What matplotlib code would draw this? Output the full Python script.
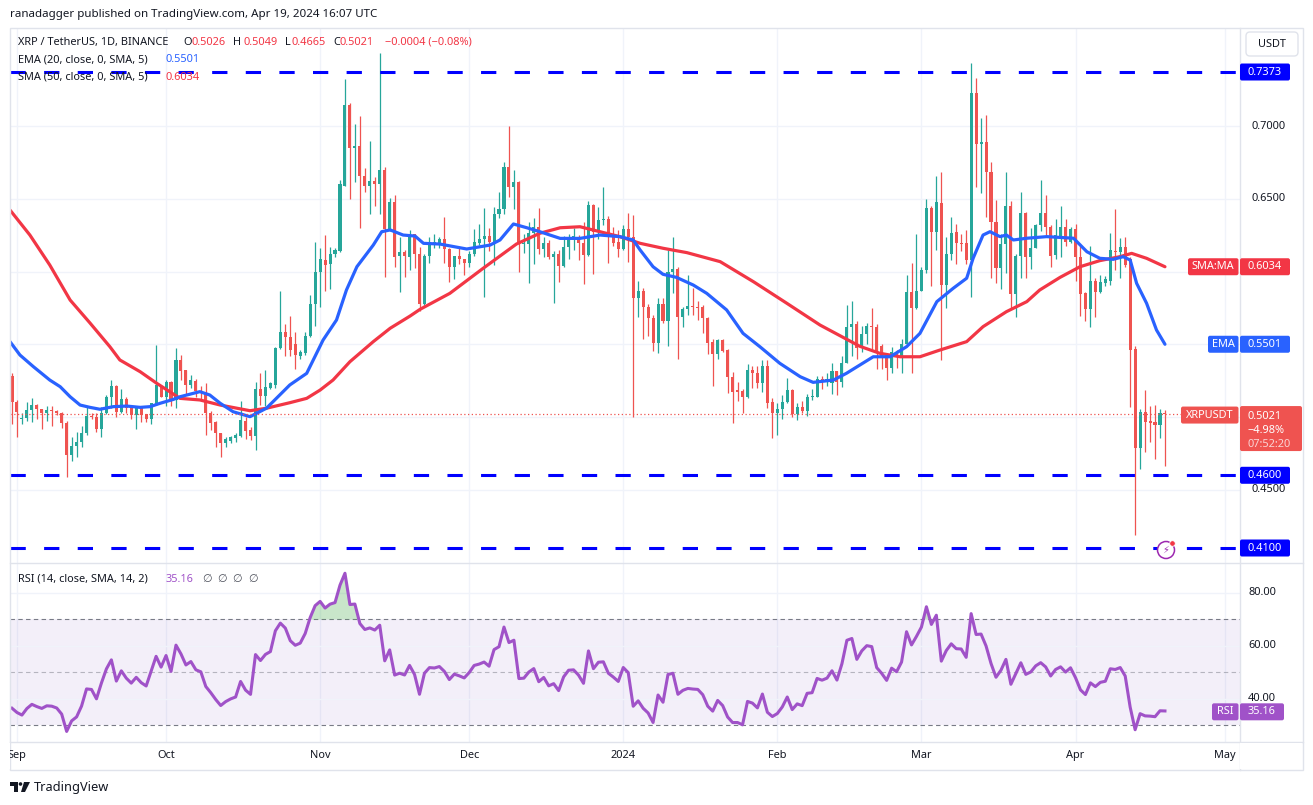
import numpy as np
import pandas as pd
import matplotlib
matplotlib.use('Agg')
import matplotlib.pyplot as plt
from matplotlib.patches import Rectangle, FancyBboxPatch, Circle, Polygon
from matplotlib.lines import Line2D

plt.rcParams['font.family'] = ['Noto Sans', 'DejaVu Sans']

# ---- data (daily XRP/USDT, day 0 = 2023-08-31) ----
start = pd.Timestamp('2023-08-31')

opens = [
    .5283, .5106, .4985, .4995, .5049, .5083, .5054, .5031, .5049, .5045,
    .5030, .4962, .4740, .4803, .4831, .4893, .5008, .5003, .4918, .5026,
    .5136, .5214, .5037, .5125, .5070, .5015, .5060, .5020, .4987, .5090,
    .5216, .5140, .5244, .5118, .5393, .5324, .5220, .5250, .5182, .5164,
    .5026, .4969, .4888, .4820, .4838, .4855, .4870, .4975, .4911, .4870,
    .5193, .5145, .5203, .5219, .5473, .5583, .5553, .5500, .5420, .5443,
    .5558, .5778, .5996, .6077, .6050, .6119, .6142, .6591, .7146, .6848,
    .6864, .6658, .6591, .6625, .6603, .6699, .6291, .6477, .6108, .6133,
    .6103, .6257, .6119, .5778, .6108, .6195, .6190, .6222, .6154, .6035,
    .6108, .6085, .6058, .6121, .6199, .6222, .6245, .6206, .6395, .6431,
    .6718, .6580, .6619, .6190, .6190, .6268, .6309, .6154, .6200, .6099,
    .6121, .6039, .6172, .6235, .6241, .6195, .6115, .6459, .6275, .6353,
    .6363, .6241, .6206, .6154, .6291, .6241, .5817, .5869, .5755, .5679,
    .5512, .5778, .5663, .6000, .6016, .5691, .5741, .5764, .5755, .5755,
    .5679, .5517, .5434, .5531, .5461, .5274, .5186, .5180, .5136, .5324,
    .5306, .5237, .5351, .5106, .5030, .5054, .5106, .5186, .5021, .5067,
    .5044, .5136, .5140, .5260, .5240, .5237, .5317, .5243, .5374, .5618,
    .5640, .5478, .5570, .5629, .5622, .5491, .5416, .5340, .5446, .5416,
    .5501, .5858, .5748, .5867, .6012, .6436, .6271, .6470, .5909, .6119,
    .6271, .6195, .6195, .6080, .7226, .6876, .6890, .6683, .6340, .6027,
    .6188, .6452, .5844, .6110, .6401, .6103, .6165, .6321, .6401, .6309,
    .6117, .6245, .6309, .6206, .6291, .6103, .5851, .5741, .5938, .5862,
    .5924, .5938, .6145, .6138, .6168, .6085, .5466, .4786, .5037, .4975,
    .4969, .4946, .5026]

highs = [
    .5300, .5120, .5028, .5106, .5134, .5090, .5058, .5076, .5076, .5050,
    .5035, .4970, .4865, .4900, .4939, .5076, .5031, .5026, .5072, .5154,
    .5255, .5220, .5193, .5140, .5080, .5070, .5070, .5020, .5100, .5496,
    .5220, .5255, .5250, .5473, .5427, .5324, .5290, .5260, .5214, .5233,
    .5040, .4970, .4890, .4860, .4870, .4890, .5113, .5000, .4934, .5244,
    .5305, .5323, .5240, .5485, .5870, .5637, .5695, .5587, .5460, .5587,
    .5840, .6206, .6160, .6252, .6170, .6160, .6630, .7323, .7158, .7013,
    .7071, .6710, .6900, .6650, .7502, .6722, .6505, .6527, .6241, .6150,
    .6287, .6260, .6172, .6122, .6240, .6260, .6240, .6374, .6160, .6108,
    .6170, .6090, .6140, .6291, .6328, .6436, .6297, .6443, .6547, .6757,
    .7002, .6699, .6625, .6260, .6343, .6370, .6436, .6240, .6220, .6140,
    .6150, .6245, .6260, .6300, .6250, .6343, .6487, .6465, .6442, .6580,
    .6380, .6310, .6290, .6320, .6401, .6390, .5938, .5890, .5780, .5700,
    .5817, .5820, .6149, .6241, .6030, .5760, .5978, .5890, .5800, .5770,
    .5690, .5540, .5540, .5540, .5470, .5312, .5240, .5190, .5362, .5350,
    .5350, .5392, .5392, .5130, .5100, .5150, .5267, .5190, .5100, .5110,
    .5160, .5190, .5285, .5285, .5305, .5370, .5320, .5420, .5771, .5795,
    .5660, .5627, .5650, .5752, .5640, .5500, .5430, .5480, .5460, .5540,
    .5977, .6058, .6257, .6035, .6500, .6450, .6660, .6683, .6241, .6374,
    .6330, .6260, .6290, .7432, .7334, .7058, .7077, .6752, .6493, .6260,
    .6683, .6486, .6120, .6547, .6410, .6300, .6330, .6630, .6527, .6320,
    .6360, .6452, .6360, .6310, .6330, .6180, .5860, .6177, .5960, .5975,
    .5970, .6268, .6429, .6231, .6241, .6100, .5489, .5054, .5186, .5077,
    .5083, .5054, .5049]

lows = [
    .4953, .4865, .4953, .4975, .4968, .4990, .4916, .4970, .4939, .5015,
    .4923, .4590, .4700, .4728, .4797, .4877, .4985, .4896, .4865, .5020,
    .5060, .5003, .5030, .5026, .4985, .4916, .4968, .4968, .4953, .5080,
    .5135, .5076, .5076, .5060, .5255, .5152, .5200, .5135, .5125, .4877,
    .4913, .4792, .4728, .4793, .4820, .4830, .4863, .4850, .4844, .4774,
    .5083, .5078, .5190, .5200, .5470, .5422, .5420, .5329, .5400, .5430,
    .5550, .5627, .5756, .5869, .5880, .6100, .6133, .6589, .6500, .6614,
    .6298, .6545, .6397, .6450, .6397, .5965, .6280, .6034, .5862, .5965,
    .6012, .6022, .5732, .5773, .6062, .6160, .6160, .6062, .5927, .5950,
    .6050, .5977, .6030, .6110, .6185, .5823, .6140, .6045, .6370, .6395,
    .6512, .6434, .6000, .6130, .5920, .6050, .6120, .6100, .6085, .5783,
    .5932, .6030, .6090, .6150, .6080, .5917, .6110, .5985, .6225, .6320,
    .6062, .6180, .6100, .6150, .6069, .5003, .5691, .5535, .5557, .5457,
    .5443, .5650, .5489, .5851, .5400, .5620, .5700, .5700, .5670, .5577,
    .5431, .5214, .5400, .5450, .5168, .4962, .5110, .5026, .5130, .5200,
    .5200, .5170, .5066, .4854, .4880, .4990, .5100, .5003, .4980, .5030,
    .5010, .5120, .5135, .5190, .5215, .5160, .5150, .5210, .5370, .5420,
    .5400, .5450, .5500, .5455, .5331, .5331, .5255, .5300, .5340, .5300,
    .5490, .5301, .5740, .5867, .5990, .5903, .6149, .5393, .5748, .6080,
    .6050, .6140, .6050, .5828, .6584, .6538, .6379, .5959, .5920, .5880,
    .5989, .5748, .5691, .5960, .5960, .6020, .6160, .6280, .6250, .6035,
    .6090, .6103, .6180, .6195, .5939, .5694, .5663, .5622, .5686, .5850,
    .5900, .5910, .6012, .5960, .6030, .5072, .4189, .4641, .4762, .4829,
    .4710, .4854, .4665]

closes = [
    .5106, .5037, .4995, .5049, .5083, .5054, .5031, .5049, .5045, .5026,
    .4962, .4740, .4803, .4827, .4893, .5008, .5003, .4918, .5026, .5136,
    .5214, .5037, .5125, .5060, .5015, .5060, .5015, .4987, .5095, .5221,
    .5140, .5244, .5118, .5393, .5319, .5220, .5255, .5182, .5164, .5026,
    .4962, .4888, .4820, .4847, .4865, .4877, .4980, .4907, .4870, .5193,
    .5145, .5205, .5233, .5473, .5583, .5549, .5460, .5427, .5450, .5558,
    .5778, .5996, .6087, .6043, .6119, .6150, .6603, .7146, .6848, .6864,
    .6658, .6591, .6625, .6603, .6699, .6291, .6481, .6103, .6133, .6105,
    .6252, .6119, .5778, .6108, .6206, .6200, .6223, .6154, .6035, .6108,
    .6085, .6058, .6121, .6206, .6222, .6245, .6206, .6395, .6431, .6718,
    .6580, .6614, .6190, .6195, .6268, .6309, .6154, .6200, .6099, .6121,
    .6039, .6172, .6241, .6245, .6195, .6115, .6459, .6275, .6353, .6358,
    .6241, .6200, .6154, .6291, .6241, .5817, .5869, .5755, .5679, .5512,
    .5778, .5663, .6000, .6016, .5691, .5741, .5764, .5755, .5750, .5679,
    .5512, .5434, .5531, .5457, .5274, .5175, .5175, .5136, .5324, .5301,
    .5237, .5351, .5099, .5030, .5054, .5106, .5186, .5021, .5067, .5044,
    .5140, .5145, .5260, .5244, .5260, .5317, .5243, .5374, .5618, .5640,
    .5478, .5570, .5629, .5622, .5455, .5404, .5340, .5446, .5416, .5501,
    .5858, .5748, .5867, .6012, .6436, .6271, .6481, .5909, .6119, .6264,
    .6195, .6191, .6080, .7226, .6876, .6890, .6683, .6340, .6027, .6188,
    .6452, .5844, .6110, .6401, .6103, .6165, .6321, .6401, .6309, .6110,
    .6252, .6309, .6206, .6291, .6103, .5847, .5741, .5938, .5862, .5931,
    .5948, .6149, .6138, .6168, .6046, .5461, .4786, .5037, .4969, .4962,
    .4946, .5025, .5021]

# moving averages (day index, value)
ema_days = [-0.4, 1.6, 4.3, 7.6, 9.7, 11.7, 13.7, 15.7, 17.7, 20.4, 23.1, 25.8, 27.8,
            29.8, 32.5, 33.8, 37.8, 39.8, 41.9, 44.5, 47.9, 51.2, 55.9, 59.3, 62.6,
            65.3, 67.3, 69.4, 72.7, 74.4, 76.1, 78.7, 81.1, 82.8, 86.1, 91.5, 96.2,
            98.2, 100.9, 103.6, 106.2, 110.3, 114.3, 118.3, 122.3, 125.0, 126.4,
            129.0, 131.0, 133.7, 137.1, 139.8, 143.8, 147.1, 150.5, 154.5, 158.6,
            161.2, 165.3, 167.9, 170.6, 173.3, 176.7, 180.0, 182.7, 186.1, 189.4,
            192.1, 193.4, 195.4, 196.8, 198.8, 200.1, 201.5, 204.2, 208.2, 213.6,
            216.3, 218.9, 221.6, 223.6, 225.0, 226.3, 228.3, 230.3, 232.0]
ema_vals = [0.5519, 0.5427, 0.5347, 0.5255, 0.5209, 0.5140, 0.5083, 0.5067, 0.5054,
            0.5072, 0.5076, 0.5067, 0.5072, 0.5095, 0.5122, 0.5140, 0.5175, 0.5152,
            0.5095, 0.5037, 0.5003, 0.5061, 0.5221, 0.5301, 0.5530, 0.5668, 0.5874,
            0.6034, 0.6183, 0.6275, 0.6287, 0.6252, 0.6245, 0.6195, 0.6190, 0.6156,
            0.6183, 0.6218, 0.6328, 0.6302, 0.6275, 0.6229, 0.6229, 0.6252, 0.6241,
            0.6218, 0.6149, 0.6034, 0.5982, 0.5961, 0.5908, 0.5851, 0.5737, 0.5576,
            0.5484, 0.5370, 0.5278, 0.5239, 0.5255, 0.5301, 0.5358, 0.5415, 0.5415,
            0.5484, 0.5576, 0.5794, 0.5886, 0.5955, 0.6092, 0.6252, 0.6275, 0.6241,
            0.6252, 0.6218, 0.6230, 0.6241, 0.6230, 0.6137, 0.6092, 0.6085, 0.6103,
            0.6080, 0.5920, 0.5783, 0.5599, 0.5501]
sma_days = [-0.4, 3.6, 7.6, 11.7, 15.7, 19.7, 21.7, 25.8, 29.1, 33.8, 37.8, 41.9, 47.9,
            51.2, 55.9, 59.3, 62.0, 64.6, 68.0, 72.7, 76.1, 80.1, 82.1, 88.1, 94.8,
            101.5, 106.2, 110.3, 114.3, 118.3, 122.3, 126.4, 131.0, 135.8, 142.5,
            149.2, 155.9, 162.6, 170.6, 174.6, 178.7, 182.7, 186.7, 192.1, 195.4,
            200.1, 204.2, 206.8, 210.9, 214.9, 218.9, 222.9, 225.3, 228.3, 232.0]
sma_vals = [0.6424, 0.6252, 0.6046, 0.5805, 0.5647, 0.5484, 0.5393, 0.5312, 0.5233,
            0.5129, 0.5118, 0.5083, 0.5044, 0.5061, 0.5099, 0.5129, 0.5186, 0.5255,
            0.5381, 0.5519, 0.5611, 0.5695, 0.5741, 0.5851, 0.6023, 0.6190, 0.6264,
            0.6302, 0.6309, 0.6275, 0.6241, 0.6195, 0.6161, 0.6131, 0.6069, 0.5931,
            0.5783, 0.5633, 0.5487, 0.5439, 0.5415, 0.5415, 0.5461, 0.5519, 0.5622,
            0.5725, 0.5794, 0.5874, 0.5961, 0.6034, 0.6076, 0.6103, 0.6126, 0.6092,
            0.6034]

levels = [0.7373, 0.4600, 0.4100]          # drawn support / resistance lines
rsi_label = 35.16
price_change_pct = '\u22124.98%'
countdown = '07:52:20'

# ---- colours ----
UP, DN = '#26A69A', '#EF5350'
EMA_C, SMA_C = '#2962FF', '#F23645'
LVL_C = '#0000FF'
PURP = '#A052C8'
TXT = '#131722'
GRID = '#F0F3FA'
BORDER = '#E0E3EB'

W, H = 1313, 805
fig = plt.figure(figsize=(W / 100, H / 100), dpi=100)
fig.patch.set_facecolor('white')
T = fig.dpi_scale_trans


def P(x, y):
    return (x / 100, (H - y) / 100)


def ftext(x, y, s, **kw):
    kw.setdefault('color', TXT)
    kw.setdefault('fontsize', 7.9)
    kw.setdefault('va', 'center')
    return fig.text(x / 100, (H - y) / 100, s, transform=T, **kw)


def box(x0, y0, x1, y1, fc, ec='none', r=0.0, z=6, lw=0):
    if r:
        p = FancyBboxPatch(P(x0, y1), (x1 - x0) / 100, (y1 - y0) / 100,
                           boxstyle=f'round,pad=0,rounding_size={r / 100}',
                           transform=T, fc=fc, ec=ec, lw=lw, zorder=z)
    else:
        p = Rectangle(P(x0, y1), (x1 - x0) / 100, (y1 - y0) / 100,
                      transform=T, fc=fc, ec=ec, lw=lw, zorder=z)
    fig.add_artist(p)


def tag(x0, x1, yc, fc, s, h=17, tc='white'):
    box(x0, yc - h / 2, x1, yc + h / 2, fc, r=2)
    ftext((x0 + x1) / 2, yc, s, color=tc, ha='center', zorder=7)


def hl(y, x0, x1, c=BORDER):
    fig.add_artist(Line2D([x0 / 100, x1 / 100], [(H - y) / 100] * 2, transform=T,
                          color=c, lw=1, zorder=3))


def vl(x, y0, y1, c=BORDER):
    fig.add_artist(Line2D([x / 100] * 2, [(H - y0) / 100, (H - y1) / 100], transform=T,
                          color=c, lw=1, zorder=3))


ax = fig.add_axes([10 / W, 1 - 562.5 / H, 1229.5 / W, 534.5 / H])
axr = fig.add_axes([10 / W, 1 - 742 / H, 1229.5 / W, 179 / H])

o, h, l, c = (np.array(v) for v in (opens, highs, lows, closes))
days = np.arange(len(c))
cols = np.where(c >= o, UP, DN)

months = pd.date_range('2023-09-01', '2024-05-01', freq='MS')
mpos = np.array([(m - start).days for m in months])
mlab = ['2024' if m.month == 1 else m.strftime('%b') for m in months]

for a in (ax, axr):
    a.set_xlim(-0.4, 247.0)
    a.set_xticks([])
    a.set_yticks([])
    a.set_facecolor('white')
    for s in a.spines.values():
        s.set_visible(False)
    for m in mpos:
        a.axvline(m, color=GRID, lw=1, zorder=0)

# ---- price pane ----
ax.set_ylim(0.40003, 0.76756)
for v in np.arange(0.45, 0.7001, 0.05):
    ax.axhline(v, color=GRID, lw=1, zorder=0)

ax.vlines(days, l, h, colors=cols, lw=0.9, zorder=2)
ax.bar(days, np.maximum(np.abs(c - o), 0.0007), bottom=np.minimum(o, c), width=0.62,
       color=cols, lw=0, zorder=3)
ax.plot(sma_days, sma_vals, color=SMA_C, lw=2.3, zorder=4, solid_capstyle='round')
ax.plot(ema_days, ema_vals, color=EMA_C, lw=2.3, zorder=4, solid_capstyle='round')
ax.axhline(c[-1], color=DN, lw=0.9, ls=(0, (1, 2)), zorder=4)
for lv in levels:
    ax.axhline(lv, color=LVL_C, lw=2.2, ls=(0, (5, 6)), zorder=5)

# ---- RSI pane (Wilder RSI 14 of the closes) ----
delta = np.diff(c)
au, ad = 0.0042, 0.0073
rsi = [100 - 100 / (1 + au / ad)]
for d in delta:
    au = (au * 13 + max(d, 0)) / 14
    ad = (ad * 13 + max(-d, 0)) / 14
    rsi.append(100 - 100 / (1 + au / ad))
rsi = np.array(rsi)

axr.set_ylim(23.77, 91.32)
axr.axhspan(30, 70, color='#7E57C2', alpha=0.09, lw=0, zorder=0)
for v in (40, 60, 80):
    axr.axhline(v, color=GRID, lw=1, zorder=0)
for v, al in ((70, 1), (50, 0.5), (30, 1)):
    axr.axhline(v, color='#787B86', lw=0.8, ls=(0, (4, 3)), alpha=al, zorder=1)
axr.fill_between(days, rsi, 70, where=rsi > 70, interpolate=True, color='#4CAF50',
                 alpha=0.3, lw=0, zorder=1)
axr.plot(days, rsi, color=PURP, lw=2.2, zorder=3)


def ypx(a, v):
    return H - a.transData.transform((0, v))[1]


# ---- frame ----
box(10, 28, 1302.5, 769.5, 'none', ec=BORDER, lw=1, z=2)
vl(1239.5, 28, 769.5)
hl(562.5, 10, 1302.5)
hl(742, 10, 1302.5)

# ---- header / legends ----
ftext(10, 14, 'ranadagger published on TradingView.com, Apr 19, 2024 16:07 UTC', fontsize=8.3)
chg = c[-1] - c[-2]
segs = [('XRP / TetherUS, 1D, BINANCE', 18, TXT), ('O', 183, TXT), (f'{o[-1]:.4f}', 192, SMA_C),
        ('H', 233, TXT), (f'{h[-1]:.4f}', 243, SMA_C), ('L', 285, TXT), (f'{l[-1]:.4f}', 292, SMA_C),
        ('C', 333, TXT), (f'{c[-1]:.4f}', 340, SMA_C),
        (f'\u2212{abs(chg):.4f} (\u2212{abs(chg) / c[-2] * 100:.2f}%)', 385, SMA_C)]
for s, x, col in segs:
    ftext(x, 42, s, color=col, zorder=4)
ftext(18, 59.5, 'EMA (20, close, 0, SMA, 5)', zorder=4)
ftext(165, 59.5, f'{ema_vals[-1]:.4f}', color=EMA_C, zorder=4)
ftext(18, 77, 'SMA (50, close, 0, SMA, 5)', zorder=4)
ftext(165, 77, f'{sma_vals[-1]:.4f}', color=SMA_C, zorder=4)
ftext(18, 579, 'RSI (14, close, SMA, 14, 2)', zorder=4)
ftext(166, 579, f'{rsi_label:.2f}', color=PURP, zorder=4)
for x in (207, 222, 237, 253):
    ftext(x, 579, '\u2205', ha='center', color='#50535E', zorder=4)

# ---- price scale ----
box(1246, 32, 1298, 56, 'white', ec=BORDER, lw=1, r=4)
ftext(1272, 44, 'USDT', ha='center', zorder=7)
for v in (0.70, 0.65, 0.45):
    ftext(1269, ypx(ax, v), f'{v:.4f}', ha='center')
for lv in levels:
    tag(1240, 1290, ypx(ax, lv), LVL_C, f'{lv:.4f}')
ys = ypx(ax, sma_vals[-1])
tag(1188, 1238.5, ys, SMA_C, 'SMA:MA')
tag(1240, 1290, ys, SMA_C, f'{sma_vals[-1]:.4f}')
ye = ypx(ax, ema_vals[-1])
tag(1208, 1238.5, ye, EMA_C, 'EMA')
tag(1240, 1290, ye, EMA_C, f'{ema_vals[-1]:.4f}')
yc = ypx(ax, c[-1])
tag(1181, 1238.5, yc + 1, DN, 'XRPUSDT')
box(1240, yc - 8, 1302, yc + 37, DN, r=2)
ftext(1247, yc + 2, f'{c[-1]:.4f}', color='white', zorder=7)
ftext(1247, yc + 16, price_change_pct, color='white', zorder=7)
ftext(1247, yc + 30, countdown, color='#FAD4D4', zorder=7)

# alert icon
fig.add_artist(Circle(P(1166, 550), 0.085, transform=T, fc='white', ec='#9C27B0', lw=1.1, zorder=6))
ftext(1166, 550.5, '\u26A1', ha='center', color='#9C27B0', fontsize=7, zorder=7)
fig.add_artist(Circle(P(1172.5, 543.5), 0.028, transform=T, fc='#F23645', ec='white', lw=0.6, zorder=8))

# ---- RSI scale ----
for v in (80, 60, 40):
    ftext(1262, ypx(axr, v), f'{v:.2f}', ha='center')
yr = ypx(axr, rsi_label)
tag(1212, 1238.5, yr, PURP, 'RSI')
tag(1240, 1284, yr, PURP, f'{rsi_label:.2f}')

# ---- time axis ----
for m, s in zip(mpos, mlab):
    xp = ax.transData.transform((m, 0))[0]
    ftext(xp, 755.5, s, ha='center', fontweight='bold' if s == '2024' else 'normal')
box(1240, 743, 1302, 769, 'white', z=4)
box(0, 743, 9.5, 769, 'white', z=4)

# ---- TradingView logo ----
for poly in ([(10, 782), (18, 782), (18, 792), (14, 792), (14, 786), (10, 786)],
             [(24, 782), (30, 782), (25, 792), (21, 792)]):
    fig.add_artist(Polygon([P(*q) for q in poly], transform=T, fc=TXT, ec='none'))
fig.add_artist(Circle(P(20.5, 784), 0.018, transform=T, fc=TXT, ec='none'))
ftext(34, 787, 'TradingView', fontsize=9.2)

fig.savefig('out.png', dpi=100, facecolor='white')
